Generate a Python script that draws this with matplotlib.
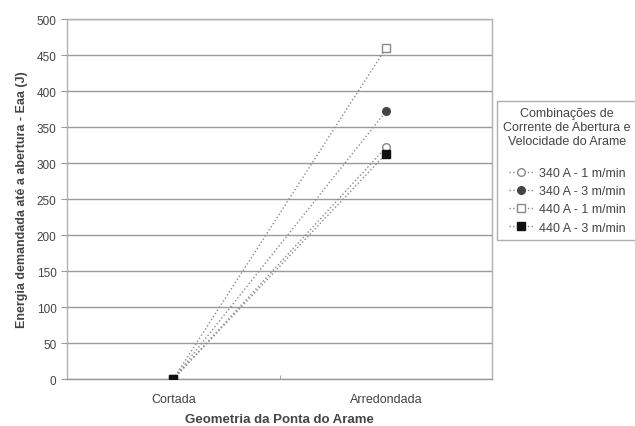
import matplotlib
import matplotlib.pyplot as plt

matplotlib.use('Agg')

plt.rcParams['font.family'] = ['Liberation Sans', 'DejaVu Sans']

categories = ['Cortada', 'Arredondada']
series_labels = ['340 A - 1 m/min', '340 A - 3 m/min', '440 A - 1 m/min', '440 A - 3 m/min']
energy_340_1 = [0, 322]
energy_340_3 = [0, 372]
energy_440_1 = [0, 460]
energy_440_3 = [0, 313]
y_ticks = [0, 50, 100, 150, 200, 250, 300, 350, 400, 450, 500]

series = [energy_340_1, energy_340_3, energy_440_1, energy_440_3]
markers = ['o', 'o', 's', 's']
faces = ['white', '#444444', 'white', '#111111']
edges = ['#888888', '#444444', '#888888', '#111111']

fig = plt.figure(figsize=(6.35, 4.27), dpi=100)
ax = fig.add_axes([0.1055, 0.110, 0.670, 0.843])

x = list(range(len(categories)))
for values, label, mk, fc, ec in zip(series, series_labels, markers, faces, edges):
    ax.plot(x, values, linestyle=':', color='#8a8a8a', linewidth=1.0,
            marker=mk, markersize=5.5, markerfacecolor=fc, markeredgecolor=ec,
            markeredgewidth=1.0, label=label, zorder=3)

ax.set_xlim(-0.5, 1.5)
ax.set_ylim(0, 500)
ax.set_yticks(y_ticks)
ax.set_xticks(x)
ax.set_xticklabels(categories)
ax.set_xticks([0.5], minor=True)
ax.tick_params(axis='x', which='major', length=0, pad=10, labelsize=9, labelcolor='#444444')
ax.tick_params(axis='x', which='minor', length=3, color='#999999', direction='in')
ax.tick_params(axis='y', length=4, color='#999999', labelsize=8.5, labelcolor='#444444')
ax.yaxis.grid(True, color='#9a9a9a', linewidth=1.0)
ax.set_axisbelow(True)
for side in ['top', 'right', 'left', 'bottom']:
    ax.spines[side].set_color('#b0b0b0')
    ax.spines[side].set_linewidth(1.0)
ax.spines['bottom'].set_color('#9a9a9a')

ax.set_ylabel('Energia demandada até a abertura - Eaa (J)', fontsize=9,
              fontweight='bold', color='#444444', labelpad=6)
ax.set_xlabel('Geometria da Ponta do Arame', fontsize=9.5, fontweight='bold',
              color='#444444', labelpad=6)

# trailing newline leaves the gap between title and entries
leg = fig.legend(loc='upper left', bbox_to_anchor=(497 / 635, 1 - 102 / 427),
                 title='Combinações de\nCorrente de Abertura e\nVelocidade do Arame\n',
                 fontsize=9, title_fontsize=9, frameon=True, fancybox=False,
                 handlelength=2.0, handletextpad=0.4, labelspacing=0.5,
                 borderaxespad=0, borderpad=0.5, labelcolor='#444444')
leg.get_title().set_color('#444444')
leg.get_title().set_multialignment('center')
leg.get_frame().set_edgecolor('#999999')
leg.get_frame().set_linewidth(1.0)

fig.savefig('out.png', dpi=100)
